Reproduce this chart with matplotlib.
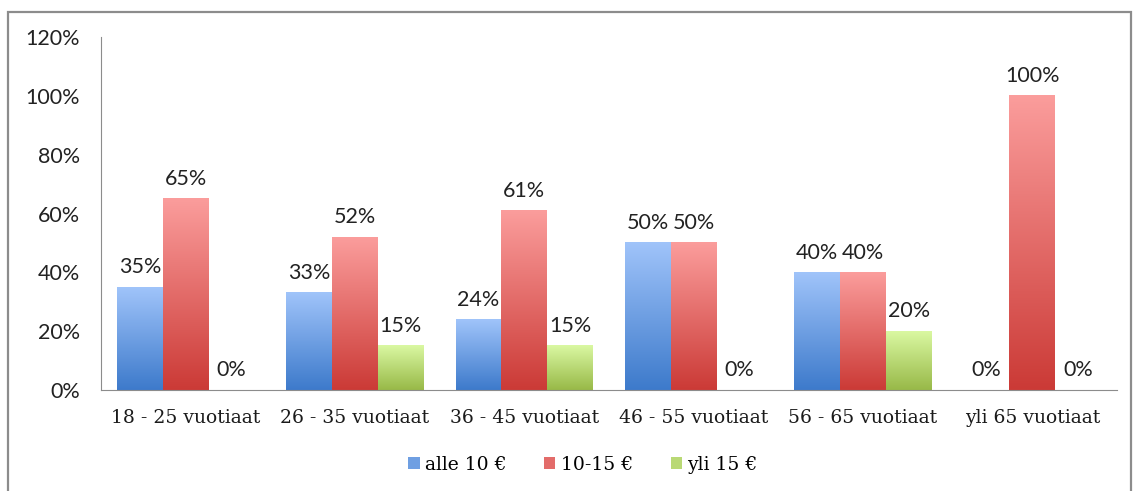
import numpy as np
import matplotlib.pyplot as plt
from matplotlib.colors import LinearSegmentedColormap
from matplotlib.patches import Rectangle, Patch

categories = ["18 - 25 vuotiaat", "26 - 35 vuotiaat", "36 - 45 vuotiaat",
              "46 - 55 vuotiaat", "56 - 65 vuotiaat", "yli 65 vuotiaat"]
series_names = ["alle 10 €", "10-15 €", "yli 15 €"]
alle10 = [35, 33, 24, 50, 40, 0]
v10_15 = [65, 52, 61, 50, 40, 100]
yli15 = [0, 15, 15, 0, 20, 0]
y_ticks = [0, 20, 40, 60, 80, 100, 120]

# top colour, bottom colour of each gradient
grads = [("#a0c4fa", "#3d7acb"), ("#fb9d9c", "#cb3a36"), ("#daf8a2", "#98b948")]
legend_cols = ["#6f9fe2", "#e36c6a", "#b9d975"]

fig = plt.figure(figsize=(11.38, 4.91), dpi=100)
ax = fig.add_axes([101/1138, 1-390/491, (1117-101)/1138, (390-37)/491])

# outer chart border
fig.patches.append(Rectangle((8/1138, -0.01), (1131-8)/1138, 1-12/491+0.01,
                             transform=fig.transFigure, fill=False,
                             edgecolor="#8c8c8c", linewidth=1.6))

w = 0.27
x = np.arange(len(categories))
label_font = dict(family="Lato", fontsize=15.5, color="#222222")
for k, vals in enumerate([alle10, v10_15, yli15]):
    cmap = LinearSegmentedColormap.from_list("g%d" % k, [grads[k][1], grads[k][0]])
    for i, v in enumerate(vals):
        xc = x[i] + (k - 1) * w
        if v > 0:
            grad = np.linspace(0, 1, 256).reshape(-1, 1)
            ax.imshow(grad, extent=[xc - w/2, xc + w/2, 0, v], origin="lower",
                      cmap=cmap, aspect="auto", zorder=2)
        ax.annotate("%d%%" % v, (xc, v), xytext=(0, 7), textcoords="offset points",
                    ha="center", va="bottom", **label_font)

ax.set_xlim(-0.5, len(categories) - 0.5)
ax.set_ylim(0, 120)
ax.set_yticks(y_ticks)
ax.set_yticklabels(["%d%%" % t for t in y_ticks], **label_font)
ax.set_xticks(x)
ax.set_xticklabels(categories, family="DejaVu Serif", fontsize=13.5, color="#1a1a1a")
ax.tick_params(axis="x", length=0, pad=14)
ax.tick_params(axis="y", length=0, pad=15)
for s in ["top", "right"]:
    ax.spines[s].set_visible(False)
ax.spines["left"].set_color("#8c8c8c")
ax.spines["bottom"].set_color("#8c8c8c")

handles = [Patch(facecolor=c) for c in legend_cols]
fig.legend(handles, series_names, loc="center", bbox_to_anchor=(583/1138, 1-465/491),
           ncol=3, frameon=False, handlelength=0.6, handleheight=0.6,
           handletextpad=0.3, columnspacing=2.0,
           prop=dict(family="DejaVu Serif", size=13.5))

fig.savefig("out.png", dpi=100)
